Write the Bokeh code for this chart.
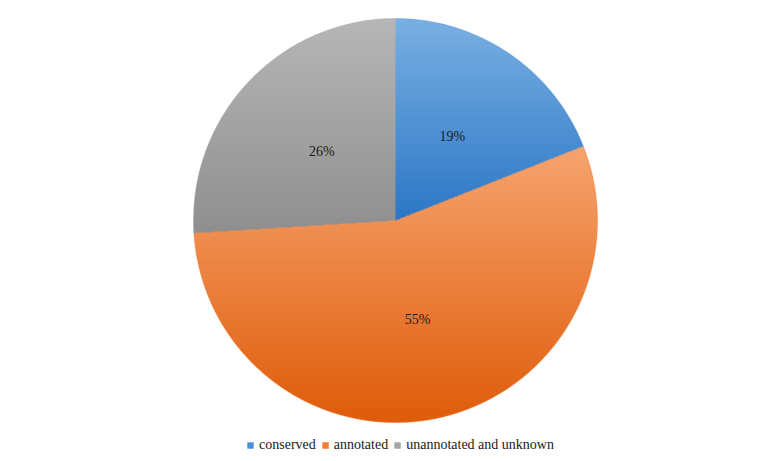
import numpy as np
from bokeh.plotting import figure
from bokeh.models import Range1d, ColumnDataSource, Legend, LegendItem
from bokeh.core.properties import value
from bokeh.embed import file_html
from bokeh.resources import INLINE

categories = ["conserved", "annotated", "unannotated and unknown"]
percents = [19, 55, 26]
colors = ["#4a90d9", "#f47c30", "#a5a5a5"]
top_colors = ["#7ab0e3", "#f7a46f", "#b7b7b7"]
bottom_colors = ["#2c77c6", "#df5c0a", "#8f8f8f"]
labels = ["19%", "55%", "26%"]

FONT = "'Liberation Serif', 'Times New Roman', serif"

W, H = 750, 453
cx_px, cy_px, r_px = 395, 220, 202

frac = np.array(percents, dtype=float) / sum(percents)
cum = np.concatenate([[0], np.cumsum(frac)])
start = np.pi / 2 - cum[:-1] * 2 * np.pi
end = np.pi / 2 - cum[1:] * 2 * np.pi
mid = (start + end) / 2

src = ColumnDataSource(dict(cat=categories, start=start, end=end, color=colors,
                            lx=0.5 * np.cos(mid), ly=0.5 * np.sin(mid), lab=labels))

p = figure(width=W, height=H, output_backend="svg", toolbar_location=None,
           x_range=Range1d(-cx_px / r_px, (W - cx_px) / r_px),
           y_range=Range1d(-(H - cy_px) / r_px, cy_px / r_px),
           min_border=0, outline_line_color=None)
p.axis.visible = False
p.grid.visible = False

w = p.wedge(x=0, y=0, radius=1, start_angle="start", end_angle="end", direction="clock",
            fill_color="color", line_color=None, source=src)

# vertical gradient shading of each slice (computed from the same data)
N = 2 * r_px
g = (np.arange(N) + 0.5) / N * 2 - 1
X, Y = np.meshgrid(g, g)
rho = np.hypot(X, Y)
f = ((np.pi / 2 - np.arctan2(Y, X)) % (2 * np.pi)) / (2 * np.pi)
idx = np.clip(np.searchsorted(cum, f, side="right") - 1, 0, len(percents) - 1)

def hex2rgb(h):
    return np.array([int(h[i:i + 2], 16) for i in (1, 3, 5)], dtype=float)

img = np.zeros((N, N, 4), dtype=np.uint8)
for k in range(len(percents)):
    angs = np.linspace(start[k], end[k], 500)
    ymax = max(0.0, np.sin(angs).max())
    ymin = min(0.0, np.sin(angs).min())
    t = np.clip((ymax - Y) / (ymax - ymin), 0, 1)
    c0, c1 = hex2rgb(top_colors[k]), hex2rgb(bottom_colors[k])
    m = idx == k
    for ch in range(3):
        img[..., ch][m] = (c0[ch] + (c1[ch] - c0[ch]) * t[m]).astype(np.uint8)
alpha = np.clip((1 - rho) * N / 2 + 0.5, 0, 1)
img[..., 3] = (alpha * 255).astype(np.uint8)
rgba = img.view(dtype=np.uint32).reshape((N, N))
p.image_rgba(image=[rgba], x=-1, y=-1, dw=2, dh=2)

p.text(x="lx", y="ly", text="lab", source=src, text_align="center", text_baseline="middle",
       text_font=value(FONT), text_font_size="14px", text_color="#1a1a1a")

items = [LegendItem(label=c, renderers=[w], index=i) for i, c in enumerate(categories)]
leg = Legend(items=items, orientation="horizontal", location=(246, 0),
             label_text_font=FONT, label_text_font_size="14px",
             label_text_color="#1a1a1a", glyph_width=8, glyph_height=8,
             label_standoff=5, spacing=5, padding=0, margin=0, label_height=16,
             border_line_color=None, background_fill_alpha=0)
p.add_layout(leg, "center")

open("out.html", "w").write(file_html(p, INLINE))
